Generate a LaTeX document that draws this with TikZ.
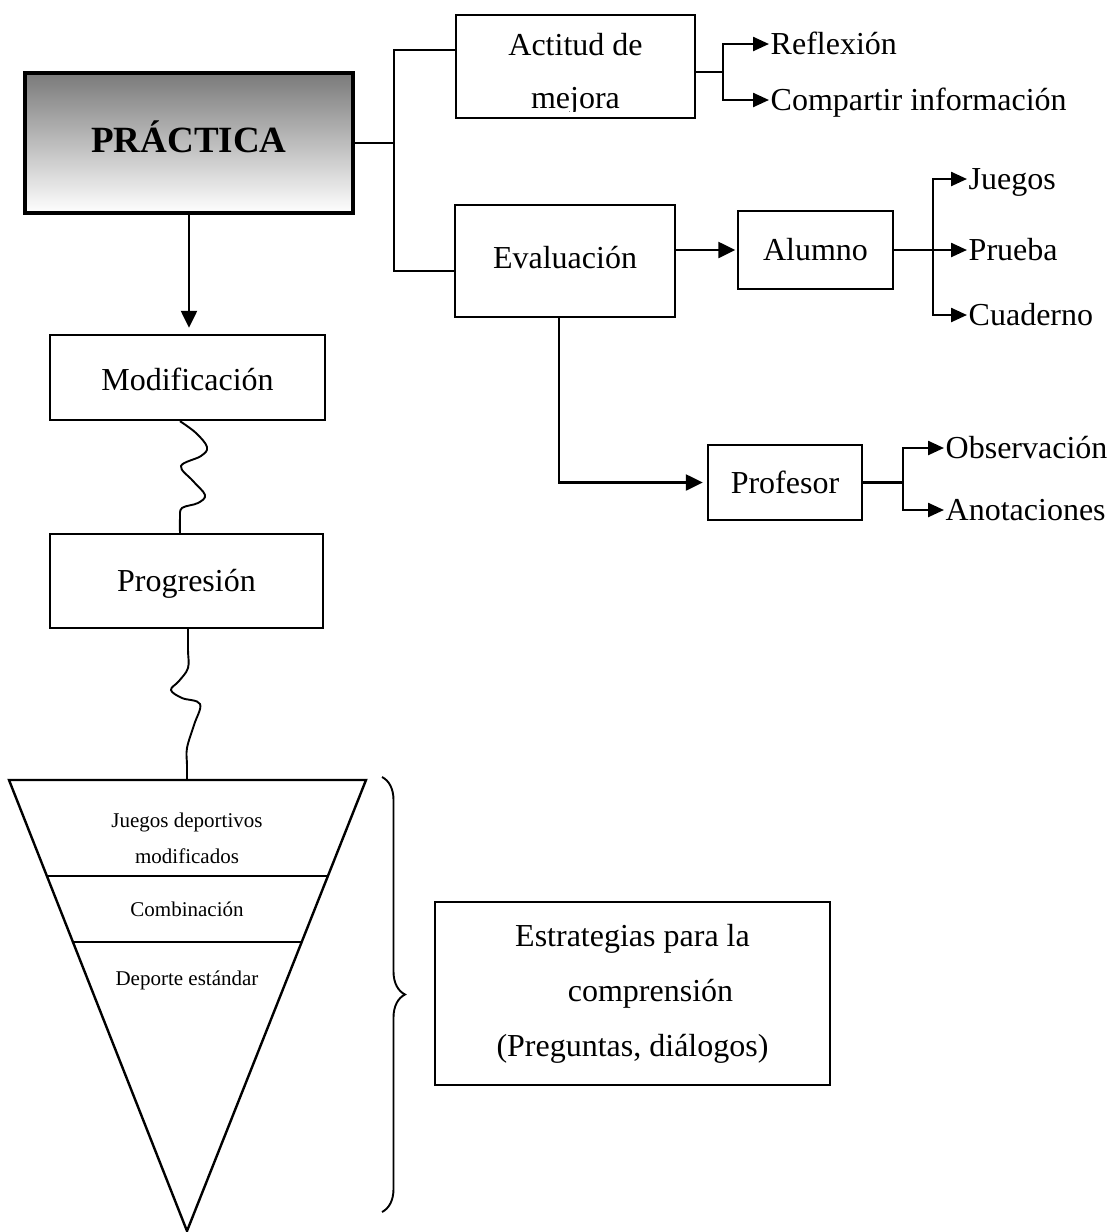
\documentclass[tikz,border=0pt]{standalone}
\usepackage{fontspec}
\setmainfont{Liberation Serif}
\usetikzlibrary{arrows.meta,calc,decorations.pathreplacing}
\definecolor{pgray}{RGB}{122,122,122}
\begin{document}
\begin{tikzpicture}[x=1pt,y=-1pt,
  boxline/.style={draw, line width=2.4pt, fill=white, inner sep=0pt,
    font=\fontsize{32}{38}\selectfont},
  box/.style={boxline, text height=21.5pt, text depth=0pt},
  lab/.style={anchor=west, inner xsep=1.5pt, inner ysep=0pt,
    font=\fontsize{32}{38}\selectfont, text height=21.5pt, text depth=0pt},
  conn/.style={line width=2.4pt},
  arr/.style={conn, -{Triangle[length=17pt,width=16pt]}},
  brarr/.style={conn, -{Triangle[length=16pt,width=14pt]}},
  wavy/.style={line width=1.9pt},
  small/.style={font=\fontsize{21}{25}\selectfont, inner sep=0pt, anchor=base}
]
\useasboundingbox (0,0) rectangle (1110,1232);

% main boxes
\node[box, line width=4pt, top color=pgray, bottom color=white,
      minimum width=328pt, minimum height=140pt, text height=18pt,
      font=\bfseries\fontsize{37}{44}\selectfont] (prac) at (189,143) {PRÁCTICA};
\node[box, minimum width=239pt, minimum height=103pt] (act) at (575.5,66.5) {};
\begin{scope}
  \clip (act.north west) rectangle ([yshift=8pt]act.south east);
  \node[anchor=base, inner sep=0pt, font=\fontsize{32}{38}\selectfont] (actA) at (575.5,55) {Actitud de};
  \node[anchor=base, inner sep=0pt, font=\fontsize{32}{38}\selectfont] (actB) at (575.5,108) {mejora};
\end{scope}
\node[box, minimum width=220pt, minimum height=112pt, text height=14pt] (eval) at (565,261) {Evaluación};
\node[box, minimum width=155pt, minimum height=78pt] (alum) at (815.5,250) {Alumno};
\node[box, minimum width=154pt, minimum height=75pt] (prof) at (785,482.5) {Profesor};
\node[box, minimum width=275pt, minimum height=85pt, text height=26pt] (mod) at (187.5,377.5) {Modificación};
\node[box, minimum width=273pt, minimum height=94pt] (prog) at (186.5,581) {Progresión};
\node[boxline, minimum width=395pt, minimum height=183pt, align=center,
      font=\fontsize{32}{55}\selectfont] (estr) at (632.5,993.5)
  {Estrategias para la\\\hspace*{36pt}comprensión\\(Preguntas, diálogos)};

% branch labels
\node[lab] (refl) at (769,44) {Reflexión};
\node[lab] (comp) at (769,100) {Compartir información};
\node[lab] (jueg) at (967,179) {Juegos};
\node[lab] (prue) at (967,250) {Prueba};
\node[lab] (cuad) at (967,315) {Cuaderno};
\node[lab] (obse) at (944,448) {Observación};
\node[lab] (anot) at (944,510) {Anotaciones};

% trunk from PRÁCTICA
\coordinate (t1) at (394,50);
\coordinate (t2) at (394,271);
\draw[conn] (prac.east) -- (prac.east -| t1);
\draw[conn] (act.west |- t1) -- (t1) -- (t2) -- (eval.west |- t2);

% Actitud de mejora branches
\coordinate (k1) at (723,72);
\draw[conn] (act.east |- k1) -- (k1);
\draw[brarr] (k1) |- (refl.west);
\draw[brarr] (k1) |- (comp.west);

% Evaluación
\draw[arr, shorten >=1.5pt] (eval.east |- alum.west) -- (alum.west);
\coordinate (k2) at (933,250);
\draw[conn] (alum.east) -- (k2);
\draw[brarr] (k2) |- (jueg.west);
\draw[brarr] (k2) -- (prue.west);
\draw[brarr] (k2) |- (cuad.west);

\draw[arr, shorten >=4pt] ([xshift=-6pt]eval.south) |- (prof.west);
\coordinate (k3) at (903,482.5);
\draw[conn] (prof.east) -- (k3);
\draw[brarr] (k3) |- (obse.west);
\draw[brarr] (k3) |- (anot.west);

% left column
\draw[arr, shorten >=6pt] (prac.south) -- (prac.south |- mod.north);

\coordinate (w1a) at ([xshift=-7.5pt]mod.south);
\coordinate (w1b) at ([xshift=-6.5pt]prog.north);
\draw[wavy] plot[smooth, tension=0.6] coordinates {(w1a) (196,433) (207,447) (201,456) (181,466) (193,481) (205,495) (198,503) (182,508) (180,518) (w1b)};

\coordinate (tri) at (187,780);
\coordinate (w2a) at ([xshift=1.5pt]prog.south);
\draw[wavy] plot[smooth, tension=0.6] coordinates {(w2a) (188,650) (188,668) (179,681) (171,690) (182,698) (200,704) (194,725) (187,748) (187,765) (tri)};

% inverted triangle
\draw[conn] (9,780) -- (366,780) -- (187,1231) -- cycle;
\draw[conn] (47,876) -- (328,876);
\draw[conn] (73,942) -- (302,942);
\node[small] (tjd)  at (187,827) {Juegos deportivos};
\node[small] (tmo)  at (187,863) {modificados};
\node[small] (tco)  at (187,916) {Combinación};
\node[small] (tde)  at (187,985) {Deporte estándar};

% brace
\draw[line width=1.9pt, decorate, decoration={brace, amplitude=23pt}] (382,777) -- (382,1212);
\end{tikzpicture}
\end{document}
